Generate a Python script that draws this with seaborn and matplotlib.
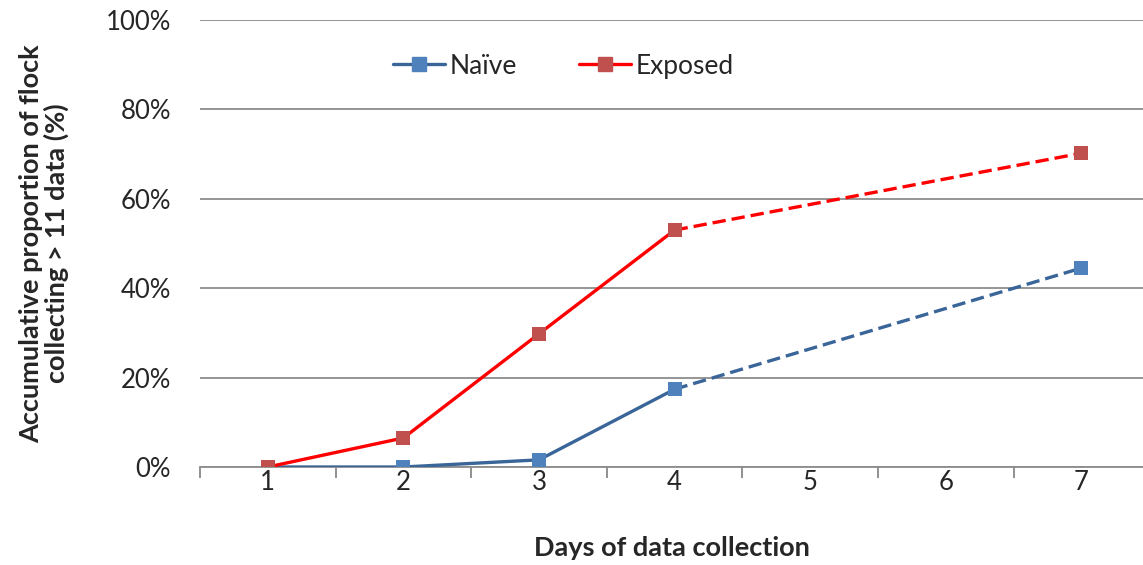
import matplotlib
matplotlib.use("Agg")
import matplotlib.pyplot as plt
import seaborn as sns
import pandas as pd
from matplotlib.lines import Line2D
from matplotlib.ticker import FixedLocator, PercentFormatter

# ---- data ----
days = [1, 2, 3, 4, 7]
naive = [0.0, 0.0, 1.6, 17.4, 44.5]
exposed = [0.0, 6.5, 29.8, 53.0, 70.2]
series_names = ["Naïve", "Exposed"]
x_tick_labels = ["1", "2", "3", "4", "5", "6", "7"]
y_ticks = [0, 20, 40, 60, 80, 100]

sns.set_style("white")
plt.rcParams["font.family"] = ["Lato", "DejaVu Sans"]

fig = plt.figure(figsize=(11.43, 5.65), dpi=100)
ax = fig.add_axes([200 / 1143, (565 - 467) / 565, 943 / 1143, 447 / 565])

line_cols = {"Naïve": "#3A6599", "Exposed": "#FF0000"}
mark_cols = {"Naïve": "#4F81BD", "Exposed": "#C0504D"}
vals = {"Naïve": naive, "Exposed": exposed}

for name in series_names:
    df = pd.DataFrame({"day": days, "val": vals[name]})
    solid = df[df["day"] <= 4]
    dashed = df[df["day"] >= 4]
    sns.lineplot(data=solid, x="day", y="val", ax=ax, color=line_cols[name],
                 linewidth=2.4, zorder=3)
    sns.lineplot(data=dashed, x="day", y="val", ax=ax, color=line_cols[name],
                 linewidth=2.4, zorder=3, dashes=False, linestyle=(0, (4, 1.8)))
    sns.scatterplot(data=df, x="day", y="val", ax=ax, color=mark_cols[name],
                    marker="s", s=100, edgecolor="none", zorder=4)

ax.set_xlim(0.5, 0.5 + 943 / 135.6)
ax.set_ylim(0, 100)

ax.set_xticks(range(1, 8))
ax.set_xticklabels(x_tick_labels, fontsize=18.5)
ax.xaxis.set_minor_locator(FixedLocator([i + 0.5 for i in range(0, 8)]))
ax.tick_params(axis="x", which="major", length=0, pad=2)
ax.tick_params(axis="x", which="minor", length=8, width=1.3, color="#888888", direction="out", bottom=True)

ax.set_yticks(y_ticks)
ax.yaxis.set_major_formatter(PercentFormatter(decimals=0))
ax.tick_params(axis="y", which="major", length=0, pad=21, labelsize=18.5)

ax.grid(axis="y", color="#8C8C8C", linewidth=1.3)
ax.grid(axis="x", visible=False)
for s in ["top", "right", "left"]:
    ax.spines[s].set_visible(False)
ax.spines["bottom"].set_color("#8C8C8C")
ax.spines["bottom"].set_linewidth(1.3)
ax.set_axisbelow(True)

ax.set_xlabel("Days of data collection", fontsize=19.5, fontweight="bold", labelpad=30)
ax.set_ylabel("Accumulative proportion of flock\ncollecting > 11 data (%)", fontsize=19.5,
              fontweight="bold", labelpad=26, linespacing=1.05)

handles = [Line2D([0], [0], color=line_cols[n], linewidth=2.4, marker="s", markersize=10,
                  markerfacecolor=mark_cols[n], markeredgecolor=mark_cols[n]) for n in series_names]
ax.legend(handles, series_names, loc="center", bbox_to_anchor=(0.385, 0.897), ncol=2,
          frameon=False, fontsize=19, handlelength=2.0, columnspacing=2.35, handletextpad=0.15)

fig.savefig("out.png", dpi=100)
